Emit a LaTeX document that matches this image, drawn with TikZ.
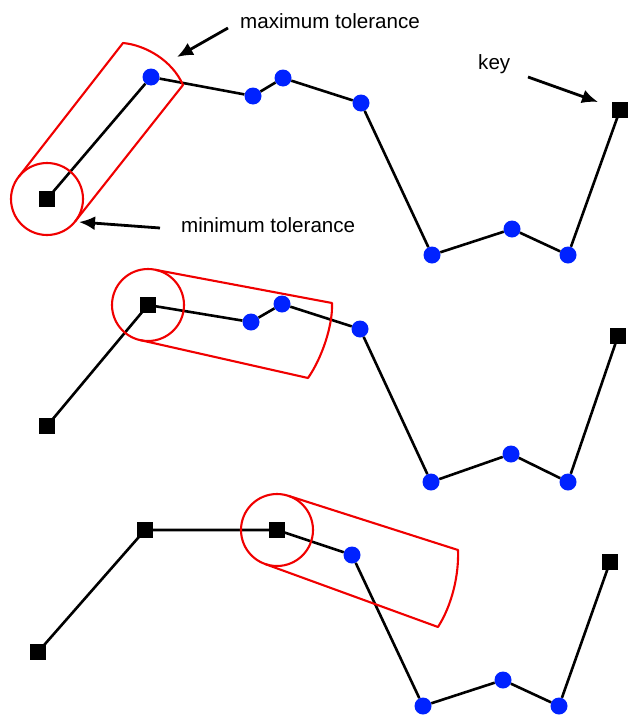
\documentclass[tikz,border=0pt]{standalone}
\usepackage{fontspec}
\setmainfont{Liberation Sans}
\usetikzlibrary{calc,arrows.meta}
\definecolor{ptblue}{RGB}{0,34,255}
\definecolor{tolred}{RGB}{240,0,0}
\tikzset{
  keysq/.style={fill=black,draw=none,rectangle,minimum size=16.5pt,inner sep=0pt},
  ptdot/.style={fill=ptblue,draw=none,circle,minimum size=17pt,inner sep=0pt},
  seg/.style={line width=2.6pt,black},
  tolcirc/.style={draw=tolred,line width=2.1pt,circle,minimum size=72pt,inner sep=0pt},
  tol/.style={draw=tolred,line width=2.1pt,line join=round},
  ptr/.style={line width=2.8pt,-{Latex[length=16pt,width=14pt]}},
  lbl/.style={font=\fontsize{20.6}{24}\selectfont,inner sep=0pt}
}
\begin{document}
\begin{tikzpicture}[x=1pt,y=-1pt]
\useasboundingbox (0,0) rectangle (629,715);
% ---------- panel 1 ----------
\node[keysq] (A1) at (47,199) {};
\node[ptdot] (B1) at (151,77) {};
\node[ptdot] (C1) at (253,96) {};
\node[ptdot] (D1) at (283,78) {};
\node[ptdot] (E1) at (361,103) {};
\node[ptdot] (F1) at (432,255) {};
\node[ptdot] (G1) at (512,229) {};
\node[ptdot] (H1) at (568,255) {};
\node[keysq] (K1) at (620,110) {};
\draw[seg] (A1.center) -- (B1) -- (C1) -- (D1) -- (E1) -- (F1) -- (G1) -- (H1) -- (K1.center);
\node[tolcirc] (T1) at (A1) {};
\draw[tol] ($(A1)+(-28.2,-22.3)$) -- (123,43) .. controls (145,45) and (172,60) .. (183,85) -- ($(A1)+(28.2,22.3)$);
\node[keysq] at (A1) {};
\node[keysq] at (K1) {};
% labels and pointers
\node[lbl,anchor=base west] (maxl) at (240,28) {maximum tolerance};
\node[lbl,anchor=base west] (minl) at (181,232) {minimum tolerance};
\node[lbl,anchor=base west] (keyl) at (478,69) {key};
\coordinate (maxtail) at (228,28);
\coordinate (maxtip) at (177,57);
\coordinate (mintail) at (160,228);
\coordinate (mintip) at (79,222);
\coordinate (keytail) at (528,77);
\coordinate (keytip) at (598,102);
\draw[ptr] (maxtail) -- (maxtip);
\draw[ptr] (mintail) -- (mintip);
\draw[ptr] (keytail) -- (keytip);
% ---------- panel 2 ----------
\node[keysq] (A2) at (47,426) {};
\node[keysq] (B2) at (148,305) {};
\node[ptdot] (C2) at (251,322) {};
\node[ptdot] (D2) at (282,304) {};
\node[ptdot] (E2) at (360,329) {};
\node[ptdot] (F2) at (431,482) {};
\node[ptdot] (G2) at (511,454) {};
\node[ptdot] (H2) at (568,482) {};
\node[keysq] (K2) at (618,336) {};
\draw[seg] (A2.center) -- (B2.center) -- (C2) -- (D2) -- (E2) -- (F2) -- (G2) -- (H2) -- (K2.center);
\node[tolcirc] (T2) at (B2) {};
\draw[tol] ($(B2)+(7.3,-35.2)$) -- (332,303) .. controls (333,325) and (322,358) .. (308,378) -- ($(B2)+(-7.3,35.2)$);
\node[keysq] at (A2) {};
\node[keysq] at (B2) {};
\node[keysq] at (K2) {};
% ---------- panel 3 ----------
\node[keysq] (A3) at (38,652) {};
\node[keysq] (B3) at (145,530) {};
\node[keysq] (C3) at (277,530) {};
\node[ptdot] (D3) at (352,555) {};
\node[ptdot] (E3) at (423,706) {};
\node[ptdot] (F3) at (503,680) {};
\node[ptdot] (G3) at (559,706) {};
\node[keysq] (K3) at (610,562) {};
\draw[seg] (A3.center) -- (B3.center) -- (C3.center) -- (D3) -- (E3) -- (F3) -- (G3) -- (K3.center);
\node[tolcirc] (T3) at (C3) {};
\draw[tol] ($(C3)+(11.7,-34.1)$) -- (458,550) .. controls (459,575) and (452,605) .. (438,627) -- ($(C3)+(-11.7,34.1)$);
\node[keysq] at (A3) {};
\node[keysq] at (B3) {};
\node[keysq] at (C3) {};
\node[keysq] at (K3) {};
\end{tikzpicture}
\end{document}
